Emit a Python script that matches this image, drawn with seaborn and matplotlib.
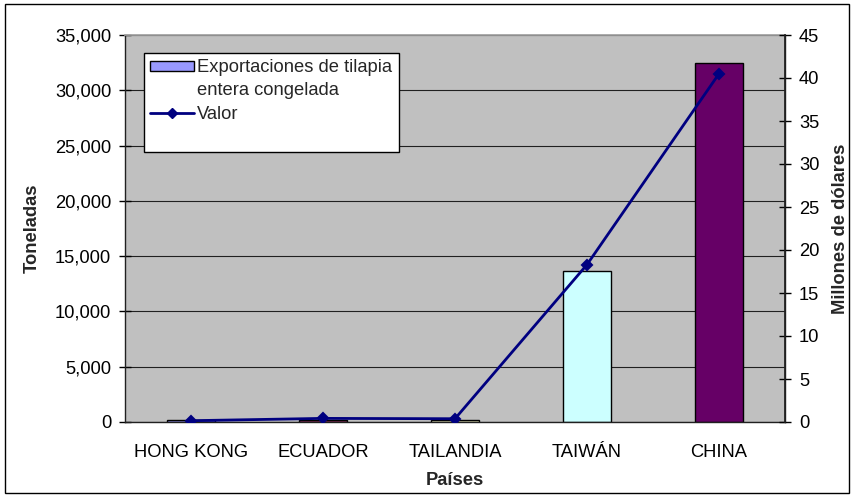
import matplotlib
matplotlib.use("Agg")
import matplotlib.pyplot as plt
import seaborn as sns
import pandas as pd
from matplotlib.ticker import StrMethodFormatter, FixedLocator, MultipleLocator
from matplotlib.patches import Rectangle, Patch
from matplotlib.lines import Line2D

# ---- data ----
paises = ["HONG KONG", "ECUADOR", "TAILANDIA", "TAIWÁN", "CHINA"]
toneladas = [150, 200, 180, 13650, 32500]
valor_musd = [0.15, 0.42, 0.38, 18.3, 40.5]
bar_colors = ["#9999FF", "#993366", "#FFFFCC", "#CCFFFF", "#660066"]
bar_label_lines = ["Exportaciones de tilapia", "entera congelada"]
line_label = "Valor"

sns.set_theme(style="white")
plt.rcParams["font.family"] = ["Liberation Sans", "DejaVu Sans"]
FS = 13.2

df = pd.DataFrame({"Países": paises, "Toneladas": toneladas, "Valor": valor_musd})

fig = plt.figure(figsize=(8.52, 4.96), dpi=100)
fig.patches.append(Rectangle((5 / 852, 3 / 496), 844 / 852, 489 / 496,
                             transform=fig.transFigure, fill=False,
                             edgecolor="black", linewidth=1.0))

ax = fig.add_axes([125 / 852, 1 - 422 / 496, 660 / 852, 387 / 496])
ax.set_facecolor("#C0C0C0")
ax.set_axisbelow(True)

sns.barplot(data=df, x="Países", y="Toneladas", hue="Países",
            palette=bar_colors, width=0.37, edgecolor="black",
            linewidth=1.0, legend=False, ax=ax, saturation=1)

ax.set_ylim(0, 35000)
ax.yaxis.set_major_locator(MultipleLocator(5000))
ax.yaxis.set_major_formatter(StrMethodFormatter("{x:,.0f}"))
ax.grid(axis="y", color="#202020", linewidth=0.8)
ax.grid(axis="x", visible=False)
ax.set_xlim(-0.5, len(paises) - 0.5)
ax.xaxis.set_minor_locator(FixedLocator([i - 0.5 for i in range(len(paises) + 1)]))
ax.tick_params(axis="x", which="major", length=0, pad=16, labelsize=FS, colors="black")
ax.tick_params(axis="x", which="minor", length=7, direction="inout", width=1, color="black")
ax.tick_params(axis="y", length=8, direction="inout", width=1, color="black",
               labelsize=FS, labelcolor="black", pad=6)
ax.set_ylabel("Toneladas", fontweight="bold", fontsize=FS, labelpad=10)
ax.set_xlabel("Países", fontweight="bold", fontsize=FS, labelpad=8)
for s in ["left", "bottom", "right"]:
    ax.spines[s].set_color("#202020")
    ax.spines[s].set_linewidth(1.0)
ax.spines["top"].set_color("#A0A0A0")

ax2 = ax.twinx()
sns.pointplot(data=df, x="Países", y="Valor", color="#000080", markers="D",
              linestyles="-", errorbar=None, ax=ax2, markersize=5.5,
              linewidth=2)
ax2.set_ylim(0, 45)
ax2.yaxis.set_major_locator(MultipleLocator(5))
ax2.tick_params(axis="y", length=8, direction="inout", width=1, color="black",
                labelsize=FS, labelcolor="black", pad=6)
ax2.set_ylabel("Millones de dólares", fontweight="bold", fontsize=FS, labelpad=9)
ax2.set_xlim(-0.5, len(paises) - 0.5)
for s in ["left", "top", "bottom"]:
    ax2.spines[s].set_visible(False)
ax2.spines["right"].set_color("#202020")

blank = Patch(facecolor="none", edgecolor="none")
handles = [Patch(facecolor=bar_colors[0], edgecolor="black", linewidth=1.0),
           blank,
           Line2D([0], [0], color="#000080", linewidth=2, marker="D", markersize=5),
           blank]
labels = [bar_label_lines[0], bar_label_lines[1], line_label, " "]
leg = ax2.legend(handles, labels, loc="upper left",
                 bbox_to_anchor=(19 / 660, 1 - 18 / 387), frameon=True,
                 fancybox=False, shadow=False, framealpha=1, fontsize=FS,
                 handlelength=2.4, handleheight=0.5, handletextpad=0.15,
                 borderpad=0.35, labelspacing=0.33, borderaxespad=0)
leg.get_frame().set_edgecolor("black")
leg.get_frame().set_linewidth(1.0)
leg.get_frame().set_facecolor("white")

fig.savefig("out.png", dpi=100)
